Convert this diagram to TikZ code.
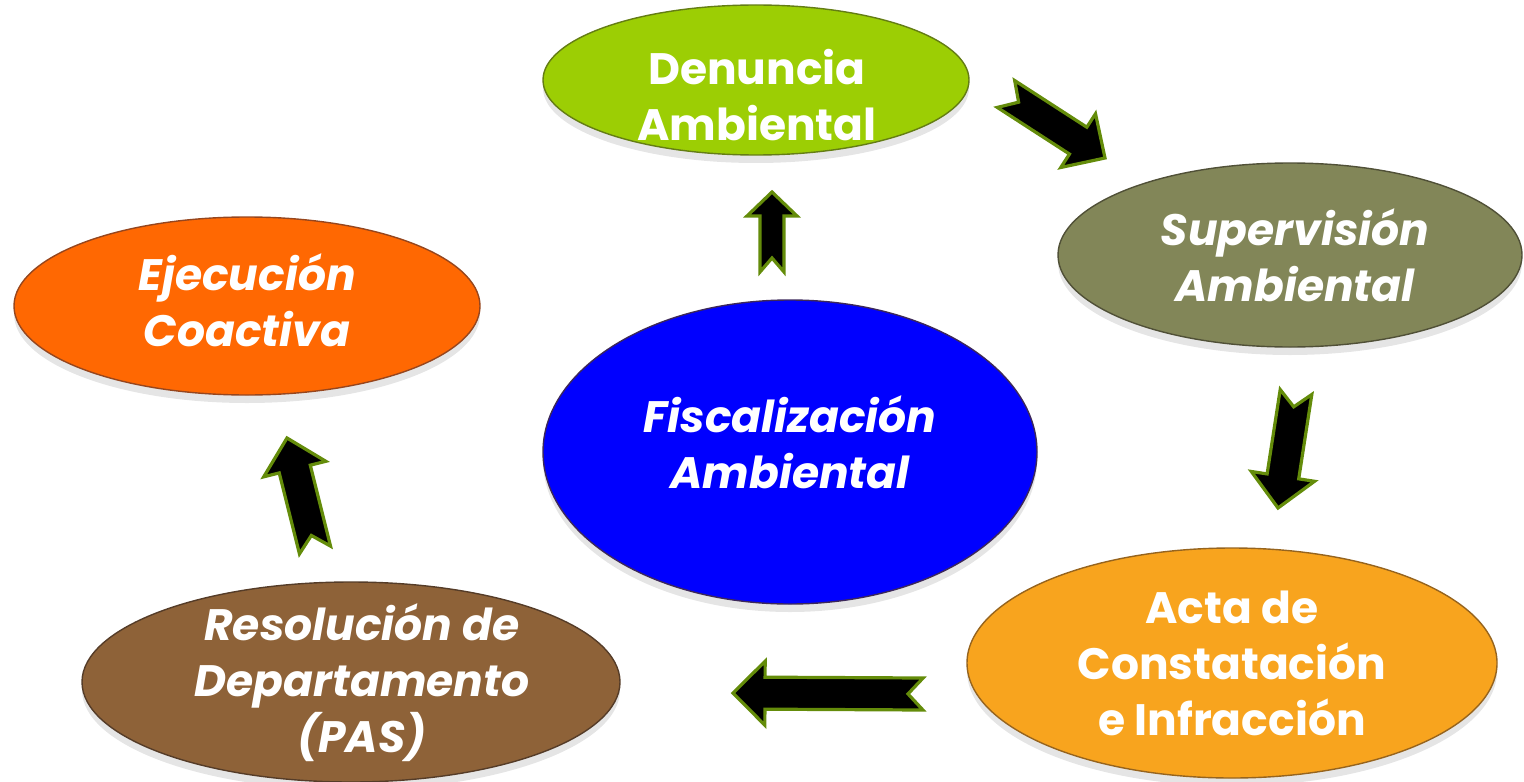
\documentclass[tikz,border=0pt]{standalone}
\usepackage{fontspec}
\setmainfont{Poppins}
\usetikzlibrary{calc,shapes.geometric,shadows}
\pgfdeclareradialshading[gin,gmid,gout]{glossy}{\pgfpointorigin}{color(0bp)=(gin);color(36bp)=(gin);color(46bp)=(gmid);color(50bp)=(gout)}
\definecolor{arrowgreen}{RGB}{100,140,10}
\definecolor{denA}{RGB}{156,206,4}\definecolor{denB}{RGB}{140,188,0}\definecolor{denC}{RGB}{100,125,20}
\definecolor{supA}{RGB}{130,134,88}\definecolor{supB}{RGB}{115,119,76}\definecolor{supC}{RGB}{80,80,55}
\definecolor{ejeA}{RGB}{255,104,2}\definecolor{ejeB}{RGB}{238,92,0}\definecolor{ejeC}{RGB}{150,70,30}
\definecolor{fisA}{RGB}{0,0,255}\definecolor{fisB}{RGB}{0,0,225}\definecolor{fisC}{RGB}{60,40,90}
\definecolor{actA}{RGB}{248,164,30}\definecolor{actB}{RGB}{238,148,20}\definecolor{actC}{RGB}{150,100,30}
\definecolor{resA}{RGB}{142,98,56}\definecolor{resB}{RGB}{128,88,50}\definecolor{resC}{RGB}{85,60,40}
\newcommand\blockarrow[6]{%
  \coordinate (hb) at ($(#2)!#3!(#1)$);
  \coordinate (nt) at ($(#1)!#6!(#2)$);
  \draw[barrow] (#2) -- ($(hb)!#4!90:(#2)$) -- ($(hb)!#5!90:(#2)$) -- ($(#1)!#5!90:(#2)$) -- (nt)
    -- ($(#1)!#5!-90:(#2)$) -- ($(hb)!#5!-90:(#2)$) -- ($(hb)!#4!-90:(#2)$) -- cycle;
}
\tikzset{
  blob/.style={ellipse, inner sep=0pt,
    /utils/exec={\colorlet{gin}{#1A}\colorlet{gmid}{#1B}\colorlet{gout}{#1C}},
    shade, shading=glossy, draw=#1C, line width=0.7pt,
    drop shadow={shadow xshift=0pt, shadow yshift=-4pt, opacity=0.10, fill=black}},
  lbl/.style={text=white, font=\fontsize{22}{28}\selectfont\bfseries, align=center, inner sep=0pt},
  ilbl/.style={lbl, font=\fontsize{22}{28}\selectfont\bfseries\itshape},
  barrow/.style={fill=black, draw=arrowgreen, line width=1.6pt, line join=miter}
}
\begin{document}
\begin{tikzpicture}[x=0.5pt,y=-0.5pt]
\useasboundingbox (0,0) rectangle (1524,781);
% ellipses
\node[blob=den, minimum width=213pt, minimum height=75pt] (den) at (756,80) {};
\node[blob=sup, minimum width=232pt, minimum height=92pt] (sup) at (1290,255) {};
\node[blob=eje, minimum width=233pt, minimum height=89pt] (eje) at (247,306) {};
\node[blob=fis, minimum width=247pt, minimum height=152pt] (fis) at (790,452) {};
\node[blob=act, minimum width=265pt, minimum height=115pt] (act) at (1232,663) {};
\node[blob=res, minimum width=269pt, minimum height=100pt] (res) at (351,682) {};
% labels
\node[lbl]  (tden) at (757,95)  {Denuncia\\Ambiental};
\node[ilbl] (tsup) at (1295,255) {Supervisión\\Ambiental};
\node[ilbl] (teje) at (247,300) {Ejecución\\Coactiva};
\node[ilbl] (tfis) at (790,442) {Fiscalización\\Ambiental};
\node[lbl]  (tact) at (1232,663) {Acta de\\Constatación\\e Infracción};
\node[ilbl] (tres) at (362,683) {Resolución de\\Departamento\\(PAS)};
% arrows
\coordinate (a1t) at (772,272); \coordinate (a1h) at (772,192);
\coordinate (a2t) at (1006,94); \coordinate (a2h) at (1105,158);
\coordinate (a3t) at (1296,392); \coordinate (a3h) at (1278,508);
\coordinate (a4t) at (923,694); \coordinate (a4h) at (733,693);
\coordinate (a5t) at (315,550); \coordinate (a5h) at (287,438);
\blockarrow{a1t}{a1h}{12pt}{12.5pt}{6pt}{7pt}
\blockarrow{a2t}{a2h}{16pt}{16pt}{8pt}{7.5pt}
\blockarrow{a3t}{a3h}{16pt}{16pt}{8pt}{7.5pt}
\blockarrow{a4t}{a4h}{16pt}{16pt}{8pt}{7.5pt}
\blockarrow{a5t}{a5h}{16pt}{16pt}{8pt}{7.5pt}
\end{tikzpicture}
\end{document}
